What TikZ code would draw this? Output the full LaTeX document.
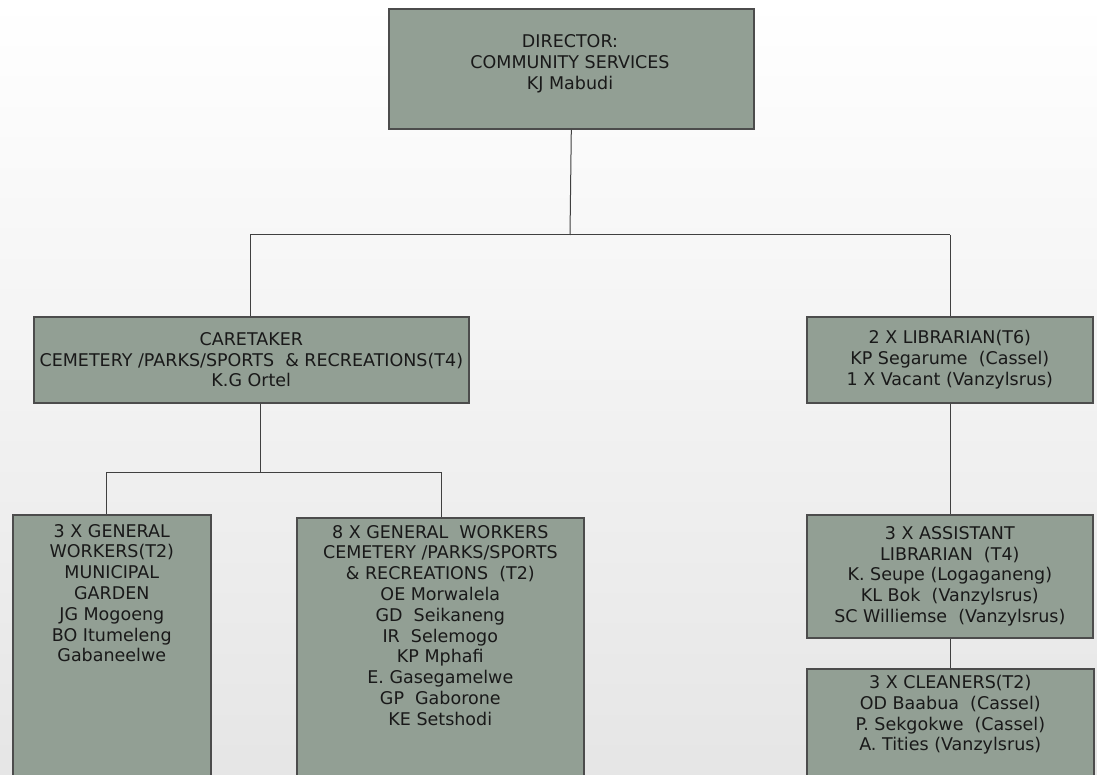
\documentclass[tikz,border=0pt]{standalone}
\usepackage{fontspec}
\setmainfont{DejaVu Sans}
\begin{document}
\begin{tikzpicture}[x=1pt,y=-1pt,
  box/.style={draw=black!70,line width=1.6pt,fill=boxfill,rectangle,inner sep=0pt,anchor=north west},
  txt/.style={align=center,font=\fontsize{17.5}{20.8}\selectfont,text=black!90,inner sep=0pt},
  conn/.style={draw=black!75,line width=1pt}]
\definecolor{boxfill}{HTML}{929F94}
\useasboundingbox (0,0) rectangle (1097,775);
\shade[top color=white,bottom color=black!10] (0,0) rectangle (1097,775);
% boxes
\node[box,minimum width=365pt,minimum height=120pt] (dir) at (388,8) {};
\node[txt] (dirt) at (570,64) {DIRECTOR:\\COMMUNITY SERVICES\\KJ Mabudi};
\node[box,minimum width=435pt,minimum height=86pt] (care) at (33,316) {};
\node[txt] (caret) at (care.center) {CARETAKER\\CEMETERY /PARKS/SPORTS \ \& RECREATIONS(T4)\\K.G Ortel};
\node[box,minimum width=286pt,minimum height=86pt] (lib) at (806,316) {};
\node[txt] (libt) at (lib.center) {2 X LIBRARIAN(T6)\\KP Segarume \ (Cassel)\\1 X Vacant (Vanzylsrus)};
\node[box,minimum width=198pt,minimum height=275pt] (gw1) at (12,514) {};
\node[txt,anchor=north] (gw1t) at ([yshift=-10pt]gw1.north) {3 X GENERAL\\WORKERS(T2)\\MUNICIPAL\\GARDEN\\JG Mogoeng\\BO Itumeleng\\Gabaneelwe};
\node[box,minimum width=287pt,minimum height=275pt] (gw2) at (296,517) {};
\node[txt,anchor=north] (gw2t) at ([yshift=-8pt]gw2.north) {8 X GENERAL \ WORKERS\\CEMETERY /PARKS/SPORTS\\\& RECREATIONS \ (T2)\\OE Morwalela\\GD \ Seikaneng\\IR \ Selemogo\\KP Mphafi\\E. Gasegamelwe\\GP \ Gaborone\\KE Setshodi};
\node[box,minimum width=286pt,minimum height=123pt] (ast) at (806,514) {};
\node[txt] (astt) at (ast.center) {3 X ASSISTANT\\LIBRARIAN \ (T4)\\K. Seupe (Logaganeng)\\KL Bok \ (Vanzylsrus)\\SC Williemse \ (Vanzylsrus)};
\node[box,minimum width=287pt,minimum height=120pt] (cln) at (806,668) {};
\node[txt,anchor=north] (clnt) at ([yshift=-7pt]cln.north) {3 X CLEANERS(T2)\\OD Baabua \ (Cassel)\\P. Sekgokwe \ (Cassel)\\A. Tities (Vanzylsrus)};
% connectors
\coordinate (j1) at (570,235);
\coordinate (jl) at (250,235);
\coordinate (jr) at (950,235);
\coordinate (j2) at (260,472);
\coordinate (j2l) at (106,472);
\coordinate (j2r) at (441,472);
\draw[conn] (dir.south) -- (j1);
\draw[conn] (jl) -- (jr);
\draw[conn] (jl) -- (jl |- care.north);
\draw[conn] (jr) -- (jr |- lib.north);
\draw[conn] (care.south -| j2) -- (j2);
\draw[conn] (j2l) -- (j2r);
\draw[conn] (j2l) -- (j2l |- gw1.north);
\draw[conn] (j2r) -- (j2r |- gw2.north);
\draw[conn] (lib.south -| jr) -- (jr |- ast.north);
\draw[conn] (ast.south -| jr) -- (jr |- cln.north);
\end{tikzpicture}
\end{document}
